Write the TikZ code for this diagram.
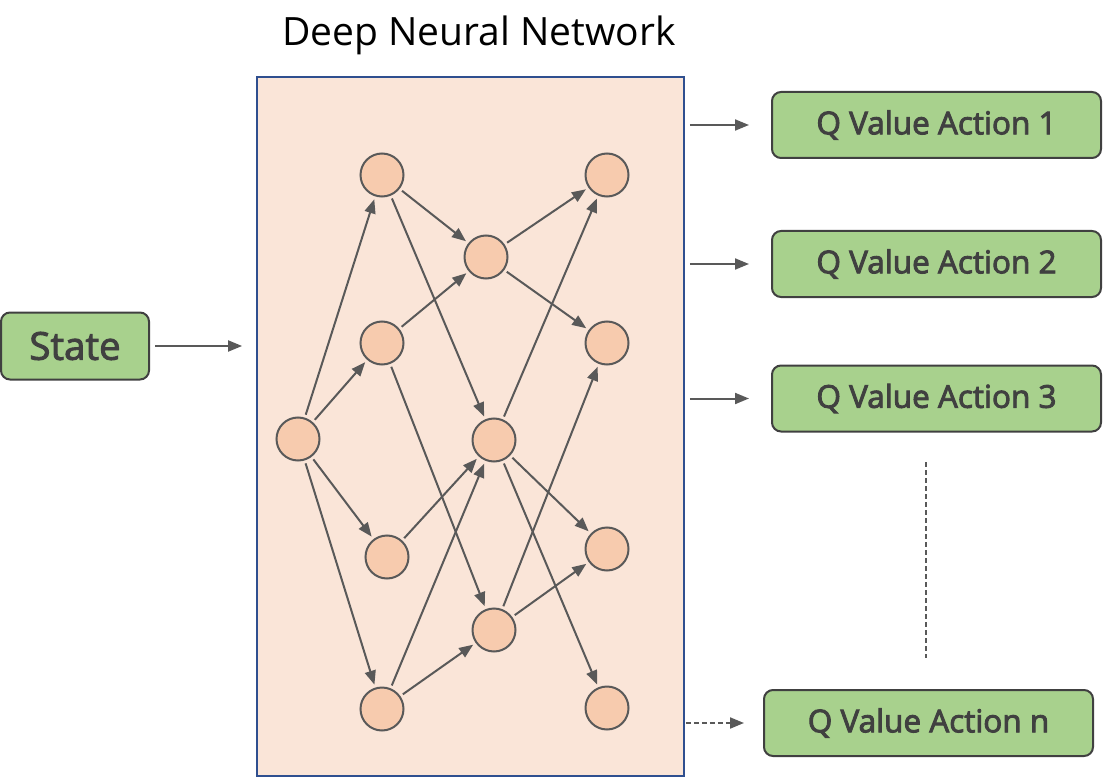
\documentclass[tikz,border=0pt]{standalone}
\usepackage{fontspec}
\setmainfont{Open Sans}
\usetikzlibrary{arrows.meta,positioning}
\definecolor{netFill}{HTML}{FAE5D8}
\definecolor{netLine}{HTML}{2F4F8F}
\definecolor{boxFill}{HTML}{A8D18D}
\definecolor{boxLine}{HTML}{404040}
\definecolor{neuronFill}{HTML}{F7CBAE}
\definecolor{edgeGray}{HTML}{595959}
\newcommand{\heavy}[1]{\special{pdf:literal direct 2 Tr 0.9 w}#1\special{pdf:literal direct 0 Tr}}
\tikzset{neuron/.style={circle,draw=edgeGray,fill=neuronFill,line width=2pt,minimum size=43pt,inner sep=0pt}}
\tikzset{io box/.style={draw=boxLine,fill=boxFill,rounded corners=9pt,line width=2pt,inner sep=0pt,text=boxLine,font=\fontsize{31.5}{38}\selectfont}}
\tikzset{link/.style={edgeGray,line width=2pt,shorten <=3pt,shorten >=3pt}}

\begin{document}
\begin{tikzpicture}[x=1pt,y=-1pt,>={Triangle[length=14pt,width=11pt]}]
	\useasboundingbox (0,0) rectangle (1103,778);
	\node[font=\fontsize{39}{45}\selectfont] at (479,35) (title) {Deep Neural Network};
	\node[draw=netLine,fill=netFill,line width=1.8pt,minimum width=427pt,minimum height=699pt,inner sep=0pt] at (470.5,426.5) (net) {};
	\node[io box,minimum width=148pt,minimum height=67pt,font=\fontsize{38.5}{45}\selectfont] at (75,346) (state) {\heavy{State}};
	\node[io box,minimum width=329pt,minimum height=66pt] at (936.5,125) (q1) {\heavy{Q Value Action 1}};
	\node[io box,minimum width=329pt,minimum height=66pt] at (936.5,264) (q2) {\heavy{Q Value Action 2}};
	\node[io box,minimum width=329pt,minimum height=66pt] at (936.5,398.5) (q3) {\heavy{Q Value Action 3}};
	\node[io box,minimum width=329pt,minimum height=66pt] at (928.5,723) (qn) {\heavy{Q Value Action n}};
	% neurons
	\node[neuron] at (298,439) (in) {};
	\node[neuron] at (382,175) (a1) {};
	\node[neuron] at (382,343) (a2) {};
	\node[neuron] at (387,557) (a3) {};
	\node[neuron] at (382,709) (a4) {};
	\node[neuron] at (486,257) (b1) {};
	\node[neuron] at (494,440) (b2) {};
	\node[neuron] at (494,630) (b3) {};
	\node[neuron] at (607,175) (c1) {};
	\node[neuron] at (607,343) (c2) {};
	\node[neuron] at (607,549) (c3) {};
	\node[neuron] at (607,708) (c4) {};
	\foreach \t in {a1,a2,a3,a4}
		\path[link] (in) edge[->] (\t);
	\path[link] (a1) edge[->] (b1) (a1) edge[->] (b2)
		(a2) edge[->] (b1) (a2) edge[->] (b3)
		(a3) edge[->] (b2)
		(a4) edge[->] (b2) (a4) edge[->] (b3);
	\path[link] (b1) edge[->] (c1) (b1) edge[->] (c2)
		(b2) edge[->] (c1) (b2) edge[->] (c3) (b2) edge[->] (c4)
		(b3) edge[->] (c2) (b3) edge[->] (c3);
	% input and outputs
	\draw[link,->,shorten <=5pt,shorten >=14pt] (state) -- (net.west |- state);
	\foreach \q in {q1,q2,q3}
		\draw[link,->,shorten <=5pt,shorten >=22pt] (net.east |- \q) -- (\q);
	\draw[link,->,dash pattern=on 5pt off 3pt,shorten <=1pt,shorten >=19pt] (net.east |- qn) -- (qn);
	\coordinate (dots top) at (926,462);
	\coordinate (dots bot) at (926,658);
	\draw[edgeGray,line width=2pt,dash pattern=on 5pt off 3pt] (dots top) -- (dots bot);
\end{tikzpicture}
\end{document}
